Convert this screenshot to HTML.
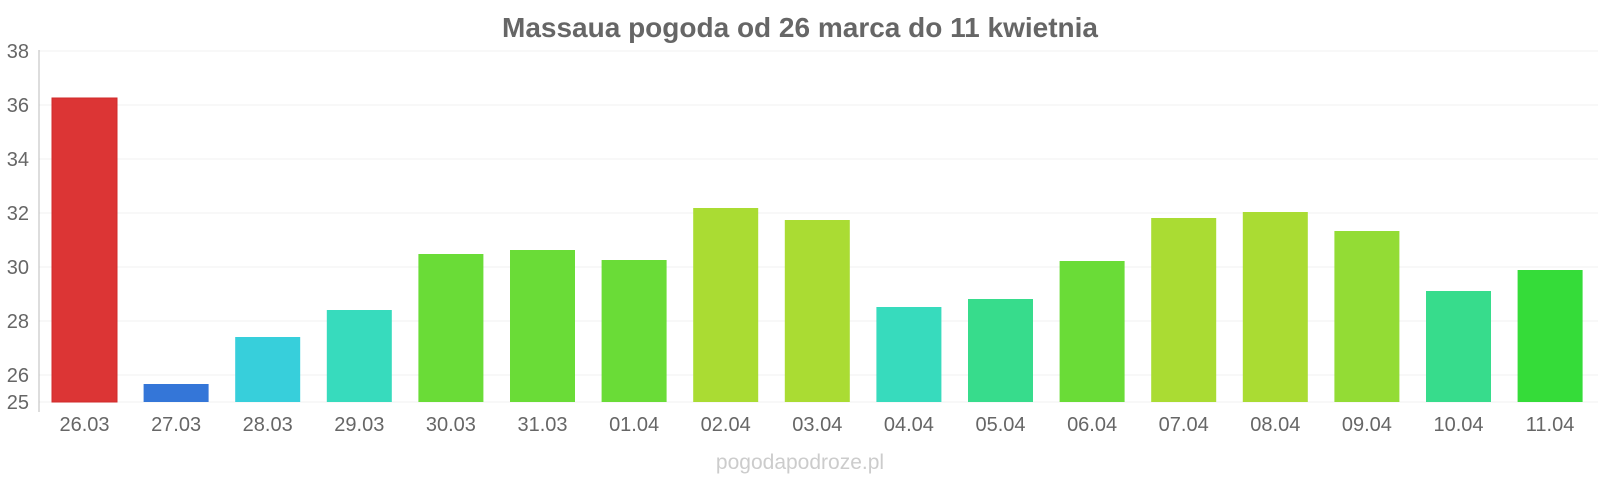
<!DOCTYPE html>
<html><head><meta charset="utf-8"><style>
html,body{margin:0;padding:0;background:#fff;}
svg{display:block;font-family:"Liberation Sans",Arial,sans-serif;}
</style></head><body>
<svg width="1600" height="480" viewBox="0 0 1600 480" xmlns="http://www.w3.org/2000/svg">
<text x="800" y="37" text-anchor="middle" font-size="28" font-weight="bold" fill="#666">Massaua pogoda od 26 marca do 11 kwietnia</text>
<g stroke="#f0f0f0" stroke-width="1">
<line x1="39" x2="1598" y1="51" y2="51"/>
<line x1="39" x2="1598" y1="105" y2="105"/>
<line x1="39" x2="1598" y1="159" y2="159"/>
<line x1="39" x2="1598" y1="213" y2="213"/>
<line x1="39" x2="1598" y1="267" y2="267"/>
<line x1="39" x2="1598" y1="321" y2="321"/>
<line x1="39" x2="1598" y1="375" y2="375"/>
<line x1="39" x2="1598" y1="402" y2="402"/>
</g>
<line x1="39" x2="39" y1="50" y2="412" stroke="#bbb" stroke-width="1"/>
<g font-size="20" fill="#666" text-anchor="end">
<text x="29" y="58">38</text>
<text x="29" y="112">36</text>
<text x="29" y="166">34</text>
<text x="29" y="220">32</text>
<text x="29" y="274">30</text>
<text x="29" y="328">28</text>
<text x="29" y="382">26</text>
<text x="29" y="409">25</text>
</g>
<g stroke-width="1">
<rect x="52" y="98" width="65" height="304" fill="#dc3535" stroke="#d02a2a"/>
<rect x="143.6" y="384" width="65" height="18" fill="#3476d8"/>
<rect x="235.2" y="337" width="65" height="65" fill="#37cfdb"/>
<rect x="326.8" y="310" width="65" height="92" fill="#37dbbd"/>
<rect x="418.4" y="254" width="65" height="148" fill="#6adc37"/>
<rect x="510" y="250" width="65" height="152" fill="#6adc37"/>
<rect x="601.6" y="260" width="65" height="142" fill="#6adc37"/>
<rect x="693.2" y="208" width="65" height="194" fill="#aadc33"/>
<rect x="784.8" y="220" width="65" height="182" fill="#aadc33"/>
<rect x="876.4" y="307" width="65" height="95" fill="#37dbbd"/>
<rect x="968" y="299" width="65" height="103" fill="#37dc8c"/>
<rect x="1059.6" y="261" width="65" height="141" fill="#6adc37"/>
<rect x="1151.2" y="218" width="65" height="184" fill="#aadc33"/>
<rect x="1242.8" y="212" width="65" height="190" fill="#aadc33"/>
<rect x="1334.4" y="231" width="65" height="171" fill="#93dc35"/>
<rect x="1426" y="291" width="65" height="111" fill="#37dc8c"/>
<rect x="1517.6" y="270" width="65" height="132" fill="#35dc39"/>
</g>
<g font-size="20" fill="#666" text-anchor="middle">
<text x="84.5" y="431">26.03</text>
<text x="176.1" y="431">27.03</text>
<text x="267.7" y="431">28.03</text>
<text x="359.3" y="431">29.03</text>
<text x="450.9" y="431">30.03</text>
<text x="542.5" y="431">31.03</text>
<text x="634.1" y="431">01.04</text>
<text x="725.7" y="431">02.04</text>
<text x="817.3" y="431">03.04</text>
<text x="908.9" y="431">04.04</text>
<text x="1000.5" y="431">05.04</text>
<text x="1092.1" y="431">06.04</text>
<text x="1183.7" y="431">07.04</text>
<text x="1275.3" y="431">08.04</text>
<text x="1366.9" y="431">09.04</text>
<text x="1458.5" y="431">10.04</text>
<text x="1550.1" y="431">11.04</text>
</g>
<text x="800" y="469" text-anchor="middle" font-size="21" fill="#ccc">pogodapodroze.pl</text>
</svg>
</body></html>
